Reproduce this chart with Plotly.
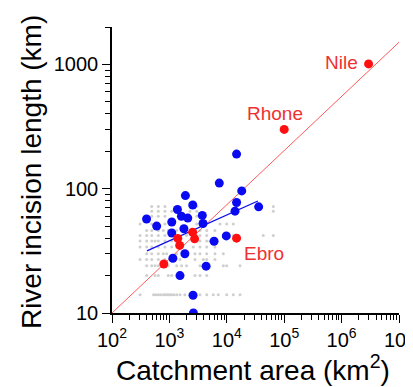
import plotly.graph_objects as go

# Blue data points (catchment area km², incision length km)
blue_area = [400, 600, 1100, 1380, 1620, 1900, 2090, 2550, 3740, 3850, 1790, 1100,
             1150, 1860, 1530, 4360, 2580, 2620, 6000, 9800, 7400, 14800, 18200,
             14800, 13900, 35900]
blue_length = [57, 50, 54, 68, 60, 88, 58, 74, 61, 52.5, 47.6, 44,
               27.6, 30, 20, 23.8, 13.9, 10, 37.8, 41.7, 111, 190, 96,
               77.5, 66, 71.5]

# Red data points
red_area = [800, 1400, 1510, 2540, 2750]
red_length = [24.8, 39.8, 35, 44.6, 39.5]
named_rivers = ["Ebro", "Rhone", "Nile"]
named_area = [14800, 1.0e5, 2.95e6]
named_length = [40, 300, 1010]

# Fit lines
red_fit_area = [1e2, 1e7]
red_fit_length = [10, 1507]
blue_fit_area = [407, 34800]
blue_fit_length = [31.6, 79.6]

# Gray background points, by row (length: areas)
gray_rows = {
    72: [492, 641, 837, 2280, 2990, 64600],
    66: [492, 641, 837, 1096, 2280, 2990, 64600],
    60: [492, 641, 837, 2990],
    52: [308, 492, 641, 837, 2990, 3410, 7600, 9950, 13000],
    46: [402, 492, 641, 784, 955, 1340, 3410, 4470, 6220],
    42: [308, 402, 492, 641, 837, 1096, 1990, 2990, 3410, 4470, 9950, 13000, 43200, 64600],
    38: [308, 402, 492, 562, 641, 837, 1096, 3410, 4470, 5090],
    34: [308, 402, 492, 641, 837, 1096, 2610, 3410, 4470, 6220],
    30: [402, 492, 641, 784, 897, 1340, 1990, 2790, 3410, 4470, 6220, 8700],
    27: [308, 402, 492, 641, 837, 1096, 1530, 2790, 3900, 4470, 6220],
    24: [402, 492, 562, 641, 837, 955, 1340, 1630, 1990, 3410, 4470, 8700, 9950, 17000],
    20: [402, 562, 641, 955, 1096, 1530, 2790, 3410, 4470],
    14: [308, 530, 580, 641, 700, 784, 837, 897, 955, 1030, 1096, 1200, 1340, 1530,
         1860, 2280, 2610, 3410, 4470, 5820, 7110, 9950, 13000, 17000],
}
gray_area = [a for L, areas in gray_rows.items() for a in areas]
gray_length = [L for L, areas in gray_rows.items() for a in areas]

x_major = [1e2, 1e3, 1e4, 1e5, 1e6, 1e7]
x_labels = ["10<sup>2</sup>", "10<sup>3</sup>", "10<sup>4</sup>",
            "10<sup>5</sup>", "10<sup>6</sup>", "10<sup>7</sup>"]
y_major = [10, 100, 1000]
y_labels = ["10", "100", "1000"]

RED = "#ff1010"
BLUE = "#0a0af0"
FONT = "Liberation Sans, Arial, sans-serif"

fig = go.Figure()
fig.add_trace(go.Scatter(x=gray_area, y=gray_length, mode="markers",
                         marker=dict(size=3, color="#cfcfcf"), hoverinfo="skip"))
fig.add_trace(go.Scatter(x=red_fit_area, y=red_fit_length, mode="lines",
                         line=dict(color="#ff5a5a", width=1)))
fig.add_trace(go.Scatter(x=blue_area, y=blue_length, mode="markers",
                         marker=dict(size=9, color=BLUE)))
fig.add_trace(go.Scatter(x=blue_fit_area, y=blue_fit_length, mode="lines",
                         line=dict(color=BLUE, width=1.3)))
fig.add_trace(go.Scatter(x=red_area + named_area, y=red_length + named_length,
                         mode="markers", marker=dict(size=9, color=RED)))

label_pos = {"Nile": (6.0, 3.016, "center"),
             "Rhone": (4.84, 2.606, "center"),
             "Ebro": (4.265, 1.48, "left")}
for name in named_rivers:
    lx, ly, anc = label_pos[name]
    fig.add_annotation(x=lx, y=ly, text=name, showarrow=False, xanchor=anc,
                       yanchor="middle", font=dict(color="#f03030", size=19, family=FONT))

# Axis titles
fig.add_annotation(xref="paper", yref="paper", x=-0.282, y=0.493, textangle=-90,
                   text="River incision length (km)", showarrow=False,
                   xanchor="center", yanchor="middle",
                   font=dict(size=28, family=FONT, color="black"))
fig.add_annotation(xref="paper", yref="paper", x=0.491, y=-0.193,
                   text="Catchment area (km<sup>2</sup>)", showarrow=False,
                   xanchor="center", yanchor="middle",
                   font=dict(size=28, family=FONT, color="black"))

minor_x = [m * 10 ** e for e in range(2, 7) for m in range(2, 10)]
minor_y = [m * 10 ** e for e in range(1, 4) for m in range(2, 10)]

fig.update_layout(
    width=405, height=379,
    margin=dict(l=104, r=14, t=19, b=74),
    paper_bgcolor="white", plot_bgcolor="white",
    showlegend=False,
    font=dict(family=FONT, color="black"),
    xaxis=dict(type="log", range=[2, 7], tickvals=x_major, ticktext=x_labels,
               automargin=False, ticklabeloverflow="allow",
               showgrid=False, zeroline=False, showline=True, linecolor="black",
               linewidth=1.5, ticks="outside", ticklen=8, tickwidth=1.2,
               tickcolor="black", tickfont=dict(size=20),
               minor=dict(tickvals=minor_x, ticks="outside", ticklen=5,
                          tickwidth=1, tickcolor="black", showgrid=False)),
    yaxis=dict(type="log", range=[1, 3.301], tickvals=y_major, ticktext=y_labels,
               automargin=False, ticklabeloverflow="allow",
               showgrid=False, zeroline=False, showline=True, linecolor="black",
               linewidth=1.5, ticks="outside", ticklen=8, tickwidth=1.2,
               tickcolor="black", tickfont=dict(size=20),
               minor=dict(tickvals=minor_y, ticks="outside", ticklen=5,
                          tickwidth=1, tickcolor="black", showgrid=False)),
)

fig.write_html("out.html")
